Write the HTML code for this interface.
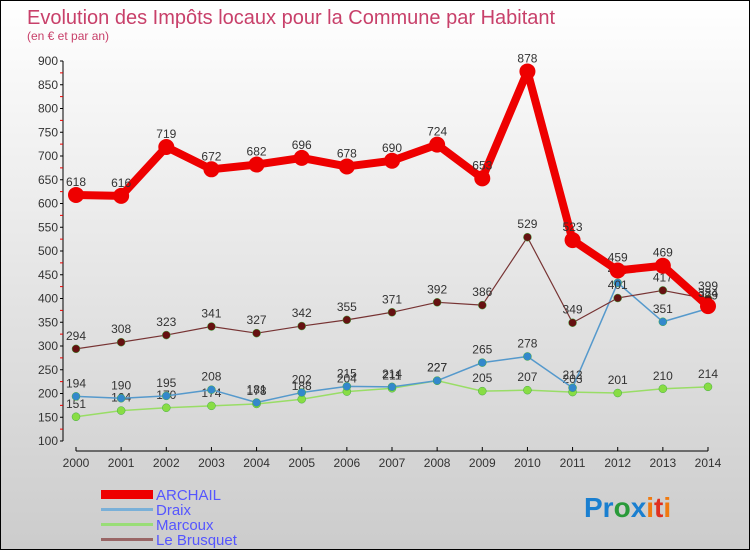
<!DOCTYPE html>
<html><head><meta charset="utf-8"><style>
body{margin:0}
#c{width:748px;height:548px;border:1px solid #000;background:linear-gradient(#fff,#ccc);position:relative;font-family:"Liberation Sans",sans-serif}
</style></head><body>
<div id="c">
<svg id="s" width="748" height="548" style="position:absolute;left:0;top:0" font-family="Liberation Sans, sans-serif">
<text x="26" y="23" font-size="20" fill="#c8406a">Evolution des Impôts locaux pour la Commune par Habitant</text>
<text x="26" y="39" font-size="12" fill="#c8406a">(en € et par an)</text>
<g id="axes"></g><g id="series"></g>
<g font-size="15" fill="#5555ff">
<rect x="100" y="489" width="52" height="9" fill="#e00"/>
<text x="155" y="499">ARCHAIL</text>
<rect x="100" y="507" width="52" height="3" fill="#7ab0d8"/>
<text x="155" y="514">Draix</text>
<rect x="100" y="522" width="52" height="3" fill="#99dd77"/>
<text x="155" y="529">Marcoux</text>
<rect x="100" y="537" width="52" height="3" fill="#996666"/>
<text x="155" y="544">Le Brusquet</text>
</g>
<text x="583" y="516" font-size="28" font-weight="bold"><tspan fill="#1a7fd0">Pr</tspan><tspan fill="#2a9a3a">o</tspan><tspan fill="#1a7fd0">x</tspan><tspan fill="#f07a10">i</tspan><tspan fill="#e03020">t</tspan><tspan fill="#f07a10">i</tspan></text>
</svg></div>
<script>
const years=[2000,2001,2002,2003,2004,2005,2006,2007,2008,2009,2010,2011,2012,2013,2014];
const archail=[618,616,719,672,682,696,678,690,724,653,878,523,459,469,384];
const draix=[194,190,195,208,181,202,215,214,227,265,278,212,433,351,379];
const marcoux=[151,164,170,174,178,188,204,211,227,205,207,203,201,210,214];
const brusquet=[294,308,323,341,327,342,355,371,392,386,529,349,401,417,399];
const yTicks=[100,150,200,250,300,350,400,450,500,550,600,650,700,750,800,850,900];
const NS="http://www.w3.org/2000/svg";
const X=i=>75+i*(632/14), Y=v=>440-(v-100)*380/800;
function mk(t,a,p){const e=document.createElementNS(NS,t);for(const k in a)e.setAttribute(k,a[k]);p.appendChild(e);return e;}
const ax=document.getElementById('axes'), sg=document.getElementById('series');
const yl=mk('line',{x1:62,y1:60,x2:62,y2:440,stroke:'#000'},ax);


const xl=mk('line',{x1:75,y1:450,x2:707,y2:450,stroke:'#000'},ax);


yTicks.forEach((v,i)=>{
 mk('line',{x1:59,y1:Y(v),x2:62,y2:Y(v),stroke:'#000'},ax);
 if(i<yTicks.length-1) mk('line',{x1:59,y1:Y(v+25),x2:62,y2:Y(v+25),stroke:'#e00'},ax);
 const t=mk('text',{x:57,y:Y(v)+4,'font-size':12,'text-anchor':'end',fill:'#333'},ax);t.textContent=v;
 
 
});
years.forEach((y,i)=>{
 mk('line',{x1:X(i),y1:446,x2:X(i),y2:450,stroke:'#000'},ax);
 const t=mk('text',{x:X(i),y:466,'font-size':12,'text-anchor':'middle',fill:'#333'},ax);t.textContent=y;
 
 
});
function series(d,color,w,r,name,pc){
 const l=mk('polyline',{points:d.map((v,i)=>X(i)+','+Y(v)).join(' '),fill:'none',stroke:color,'stroke-width':w,'stroke-linejoin':'round'},sg);
 
 
 d.forEach((v,i)=>{
  const c=mk('circle',{cx:X(i),cy:Y(v),r:r,fill:pc,stroke:pc==='#e00'?'none':'#4a4',
   'stroke-width':0.5},sg);
  
  
  const t=mk('text',{x:X(i),y:Y(v)-9,'font-size':12,'text-anchor':'middle',fill:'#333'},sg);t.textContent=v;
  
  
 });
}
series(marcoux,'#99dd66',1.5,4,'marcoux','#88dd44');
series(draix,'#5599cc',1.5,4,'draix','#3388cc');
series(brusquet,'#773333',1.2,4,'le-brusquet','#661111');
series(archail,'#ee0000',8,8,'archail','#e00');
</script>
</body></html>
